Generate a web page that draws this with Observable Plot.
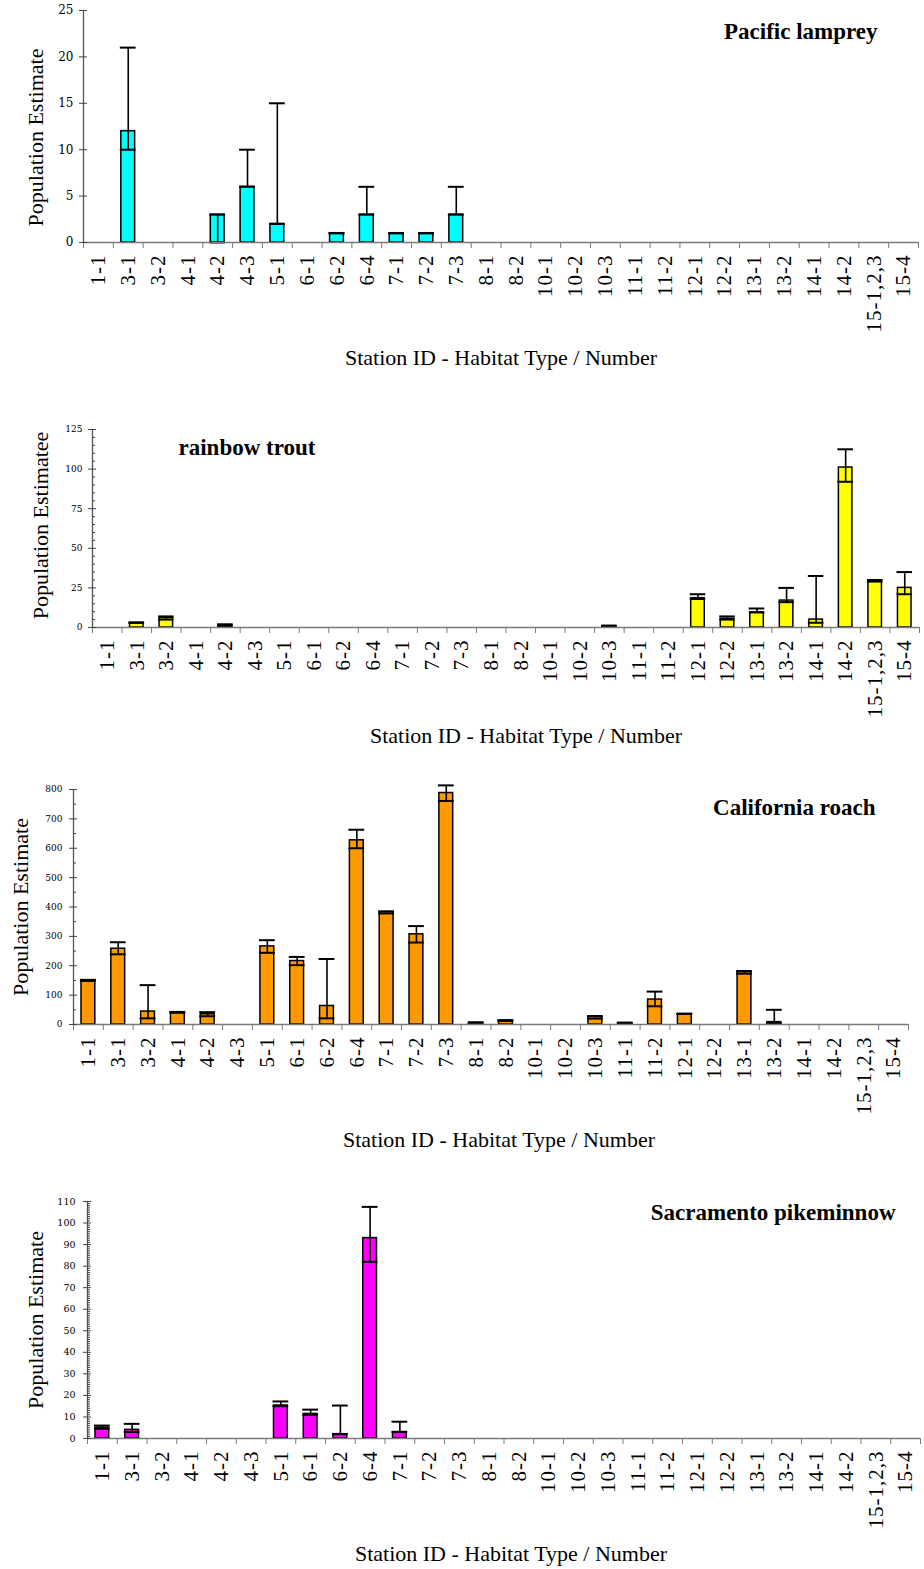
<!DOCTYPE html>
<html>
<head>
<meta charset="utf-8">
<script src="https://cdn.jsdelivr.net/npm/d3@7"></script>
<script src="https://cdn.jsdelivr.net/npm/@observablehq/plot@0.6"></script>
<style>
  html, body { margin: 0; padding: 0; background: white; }
  #chart svg { display: block; }
</style>
</head>
<body>
<div id="chart"></div>
<script>
const stations = ["1-1","3-1","3-2","4-1","4-2","4-3","5-1","6-1","6-2","6-4","7-1","7-2","7-3","8-1","8-2","10-1","10-2","10-3","11-1","11-2","12-1","12-2","13-1","13-2","14-1","14-2","15-1,2,3","15-4"];
const xTitle = "Station ID - Habitat Type / Number";
const n = null;

// Pacific lamprey
const lampreyEst  = [0,12,0,0,3,6,2,0,1,3,1,1,3,0,0,0,0,0,0,0,0,0,0,0,0,0,0,0];
const lampreyLow  = [n,10,n,n,0,6,2,n,1,3,1,1,3,n,n,n,n,n,n,n,n,n,n,n,n,n,n,n];
const lampreyHigh = [n,21,n,n,3,10,15,n,1,6,1,1,6,n,n,n,n,n,n,n,n,n,n,n,n,n,n,n];
const lampreyTicks = [0,5,10,15,20,25];

// rainbow trout
const troutEst  = [0,3,6,0,1.5,0,0,0,0,0,0,0,0,0,0,0,0,1,0,0,18.5,5.5,9.5,17,5,101,29.5,25];
const troutLow  = [n,3,5,n,1,n,n,n,n,n,n,n,n,n,n,n,n,1,n,n,18,5,9.5,16,3,92,29,21];
const troutHigh = [n,3,7,n,2,n,n,n,n,n,n,n,n,n,n,n,n,1,n,n,21,7,12,25,32.5,112.5,30,35];
const troutTicks = [0,25,50,75,100,125];
const troutMinor = [5,10,15,20,30,35,40,45,55,60,65,70,80,85,90,95,105,110,115,120];

// California roach
const roachEst  = [150,258,44,42,35,0,266,216,63,627,383,307,788,6,13,0,0,28,5,85,36,0,181,8,0,0,0,0];
const roachLow  = [148,239,21,40,28,n,244,202,21,600,378,279,761,5,12,n,n,20,4,62,36,n,173,5,n,n,n,n];
const roachHigh = [152,280,134,42,42,n,287,230,223,663,385,335,814,7,15,n,n,28,6,112,36,n,181,50,n,n,n,n];
const roachTicks = [0,100,200,300,400,500,600,700,800];
const roachMinor = [50,150,250,350,450,550,650,750];

// Sacramento pikeminnow
const pikeEst  = [5,4,0,0,0,0,15.3,11.4,2,93,3,0,0,0,0,0,0,0,0,0,0,0,0,0,0,0,0,0];
const pikeLow  = [4.5,3,n,n,n,n,15,11,2,82,3,n,n,n,n,n,n,n,n,n,n,n,n,n,n,n,n,n];
const pikeHigh = [6,6.8,n,n,n,n,17.2,13.4,15.3,107.5,7.8,n,n,n,n,n,n,n,n,n,n,n,n,n,n,n,n,n];
const pikeTicks = [0,10,20,30,40,50,60,70,80,90,100,110];
const pikeMinor = d3.range(1,110).filter(v => v % 10 !== 0);

const panels = [
  {title:"Pacific lamprey", ylabel:"Population Estimate", color:"#00FFFF",
   est:lampreyEst, low:lampreyLow, high:lampreyHigh, ticks:lampreyTicks, minor:null, ydomain:[0,25],
   height:390, mt:10, mb:148, ml:83, mr:6, yFont:12, yPad:6,
   titleAnchor:"top-right", titleText:"end", tdx:-41, tdy:21,
   ldx:-48, ldy:11, xdx:0, xdy:115},
  {title:"rainbow trout", ylabel:"Population Estimatee", color:"#FFFF00",
   est:troutEst, low:troutLow, high:troutHigh, ticks:troutTicks, minor:troutMinor, ydomain:[0,125],
   height:385, mt:39, mb:148, ml:92, mr:5, yFont:9, yPad:6,
   titleAnchor:"top-left", titleText:"start", tdx:86, tdy:18,
   ldx:-52, ldy:-3, xdx:20, xdy:108},
  {title:"California roach", ylabel:"Population Estimate", color:"#FF9900",
   est:roachEst, low:roachLow, high:roachHigh, ticks:roachTicks, minor:roachMinor, ydomain:[0,800],
   height:405, mt:14, mb:156, ml:73, mr:16, yFont:9, yPad:7,
   titleAnchor:"top-right", titleText:"end", tdx:-33, tdy:18,
   ldx:-53, ldy:0, xdx:8, xdy:115},
  {title:"Sacramento pikeminnow", ylabel:"Population Estimate", color:"#FF00FF",
   est:pikeEst, low:pikeLow, high:pikeHigh, ticks:pikeTicks, minor:pikeMinor, ydomain:[0,110],
   height:389, mt:21, mb:131, ml:87, mr:4, yFont:9.5, yPad:8,
   titleAnchor:"top-right", titleText:"end", tdx:-25, tdy:11,
   ldx:-52, ldy:0, xdx:7, xdy:115}
];

const axisColor = "#7a7a7a";
const container = document.getElementById("chart");

for (const p of panels) {
  const rows = stations.map((s, i) => ({station: s, est: p.est[i], low: p.low[i], high: p.high[i]}));
  const bars = rows.filter(d => d.est > 0);
  const errs = rows.filter(d => d.low != null);
  const step = (924 - p.ml - p.mr) / stations.length;
  const marks = [
    Plot.barY(bars, {x: "station", y: "est", fill: p.color, stroke: "black", strokeWidth: 1.5, insetLeft: 8, insetRight: 8}),
    Plot.ruleX(errs, {x: "station", y1: "low", y2: "high", stroke: "black", strokeWidth: 1.6}),
    Plot.tickY(errs, {x: "station", y: "low", stroke: "black", strokeWidth: 2, insetLeft: 7, insetRight: 7}),
    Plot.tickY(errs, {x: "station", y: "high", stroke: "black", strokeWidth: 2, insetLeft: 7, insetRight: 7}),
    Plot.ruleY([0], {stroke: axisColor, strokeWidth: 1.5}),
    Plot.frame({anchor: "left", stroke: "#555", strokeWidth: 1.3}),
    Plot.axisX({tickSize: 0, tickPadding: 12, tickRotate: -90, fontSize: 21, label: null}),
    Plot.axisX({text: null, tickSize: 6, dx: -step / 2, stroke: axisColor, label: null}),
    Plot.axisX({ticks: [stations[stations.length - 1]], text: null, tickSize: 6, dx: step / 2, stroke: axisColor, label: null}),
    Plot.axisY({ticks: p.ticks, tickSize: 4, tickPadding: p.yPad, fontSize: p.yFont, fontFamily: "DejaVu Serif", stroke: "#444", label: null}),
    Plot.axisY({ticks: p.ticks, tickSize: -4, text: null, stroke: "#444", label: null}),
    Plot.text([p.title], {frameAnchor: p.titleAnchor, text: d => d, textAnchor: p.titleText, lineAnchor: "middle", dx: p.tdx, dy: p.tdy, fontSize: 23, fontWeight: "bold"}),
    Plot.text([p.ylabel], {frameAnchor: "left", text: d => d, rotate: -90, textAnchor: "middle", lineAnchor: "middle", dx: p.ldx, dy: p.ldy, fontSize: 22}),
    Plot.text([xTitle], {frameAnchor: "bottom", text: d => d, textAnchor: "middle", lineAnchor: "middle", dx: p.xdx, dy: p.xdy, fontSize: 22})
  ];
  if (p.minor) marks.push(Plot.axisY({ticks: p.minor, tickSize: -3, text: null, stroke: "#444", label: null}));
  const chart = Plot.plot({
    width: 924, height: p.height,
    marginTop: p.mt, marginBottom: p.mb, marginLeft: p.ml, marginRight: p.mr,
    style: {fontFamily: "'Liberation Serif', 'Times New Roman', serif", fontSize: "21px", color: "black", background: "white", overflow: "visible"},
    x: {type: "band", domain: stations, padding: 0, round: false, axis: null},
    y: {domain: p.ydomain, axis: null},
    marks
  });
  d3.select(chart).selectAll('g[aria-label="x-axis tick label"] text').style("letter-spacing", "1px");
  container.appendChild(chart);
}
</script>
</body>
</html>
